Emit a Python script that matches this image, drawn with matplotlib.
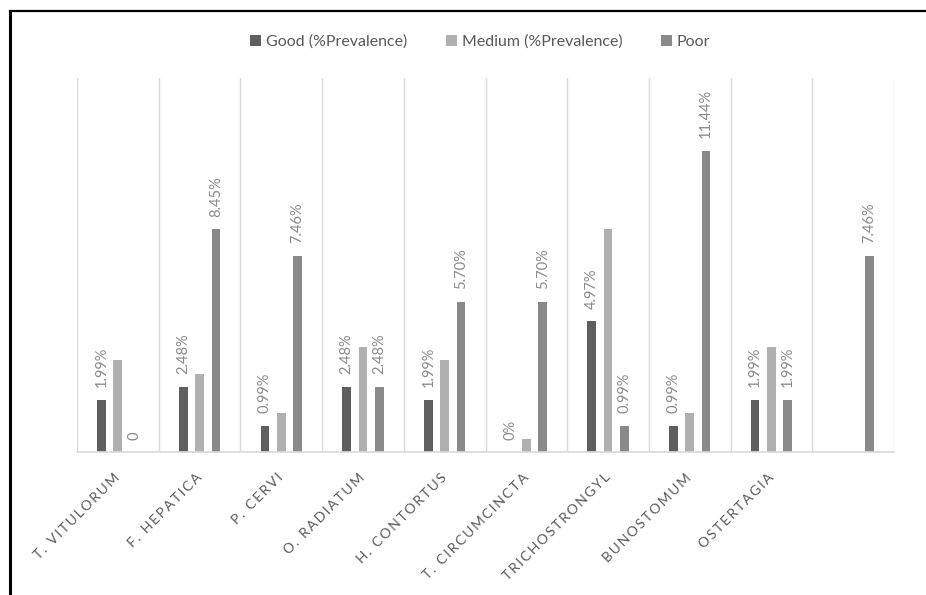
import numpy as np
import matplotlib
matplotlib.use("Agg")
import matplotlib.pyplot as plt
from matplotlib.lines import Line2D

plt.rcParams['font.family'] = ['Lato', 'DejaVu Sans']

categories = ["T. VITULORUM", "F. HEPATICA", "P. CERVI", "O. RADIATUM", "H. CONTORTUS",
              "T. CIRCUMCINCTA", "TRICHOSTRONGYL", "BUNOSTOMUM", "OSTERTAGIA", ""]
good = [1.99, 2.48, 0.99, 2.48, 1.99, 0.0, 4.97, 0.99, 1.99, np.nan]
medium = [3.48, 2.98, 1.49, 3.98, 3.48, 0.50, 8.46, 1.49, 3.98, np.nan]
poor = [0.0, 8.45, 7.46, 2.48, 5.70, 5.70, 0.99, 11.44, 1.99, 7.46]
good_labels = ["1.99%", "2.48%", "0.99%", "2.48%", "1.99%", "0%", "4.97%", "0.99%", "1.99%", ""]
poor_labels = ["0", "8.45%", "7.46%", "2.48%", "5.70%", "5.70%", "0.99%", "11.44%", "1.99%", "7.46%"]
series_names = ["Good (%Prevalence)", "Medium (%Prevalence)", "Poor"]
colors = ["#5f5f5f", "#b0b0b0", "#898989"]

W, H = 926, 595
fig = plt.figure(figsize=(W / 100, H / 100), dpi=100)
ax = fig.add_axes([77 / W, 1 - 452 / H, (894 - 77) / W, (452 - 78) / H])

x = np.arange(len(categories))
bw = 0.107
off = 0.2
b_good = ax.bar(x - off, good, bw, color=colors[0], label=series_names[0])
b_med = ax.bar(x, medium, bw, color=colors[1], label=series_names[1])
b_poor = ax.bar(x + off, poor, bw, color=colors[2], label=series_names[2])

label_color = "#8a8a8a"
for xi, v, t in zip(x - off, good, good_labels):
    if t:
        ax.annotate(t, (xi, v), xytext=(0, 9), textcoords="offset points",
                    rotation=90, ha="center", va="bottom", fontsize=10.5, color=label_color)
for xi, v, t in zip(x + off, poor, poor_labels):
    if t:
        ax.annotate(t, (xi, v), xytext=(0, 9), textcoords="offset points",
                    rotation=90, ha="center", va="bottom", fontsize=10.5, color=label_color)

ax.set_xlim(-0.5, len(categories) - 0.5)
ax.set_ylim(0, 14.2)
for b in np.arange(-0.5, len(categories), 1.0):
    ax.axvline(b, color="#d9d9d9", lw=1, zorder=0)
for s in ["top", "right", "left"]:
    ax.spines[s].set_visible(False)
ax.spines["bottom"].set_color("#d9d9d9")
ax.spines["bottom"].set_linewidth(1.2)
ax.set_yticks([])
ax.set_xticks(x)
spaced = ["\u2009".join(c) for c in categories]
ax.set_xticklabels(spaced, rotation=45, ha="right", va="center", rotation_mode="anchor",
                   fontsize=10, color="#595959")
ax.tick_params(axis="x", length=0, pad=17)

fig.legend(handles=[b_good, b_med, b_poor], labels=series_names, loc="center",
           bbox_to_anchor=(480 / W, 1 - 42 / H), ncol=3, frameon=False,
           fontsize=11.5, handlelength=0.7, handleheight=0.7, handletextpad=0.3,
           columnspacing=2.4, labelcolor="#595959")

# outer frame: top and left edges
fig.add_artist(Line2D([9.5 / W, 9.5 / W], [0, 1 - 11 / H], transform=fig.transFigure,
                      color="black", lw=2.2, solid_capstyle="projecting"))
fig.add_artist(Line2D([9.5 / W, 1.0], [1 - 11 / H, 1 - 11 / H], transform=fig.transFigure,
                      color="black", lw=1.6, solid_capstyle="projecting"))

fig.savefig("out.png", dpi=100)
